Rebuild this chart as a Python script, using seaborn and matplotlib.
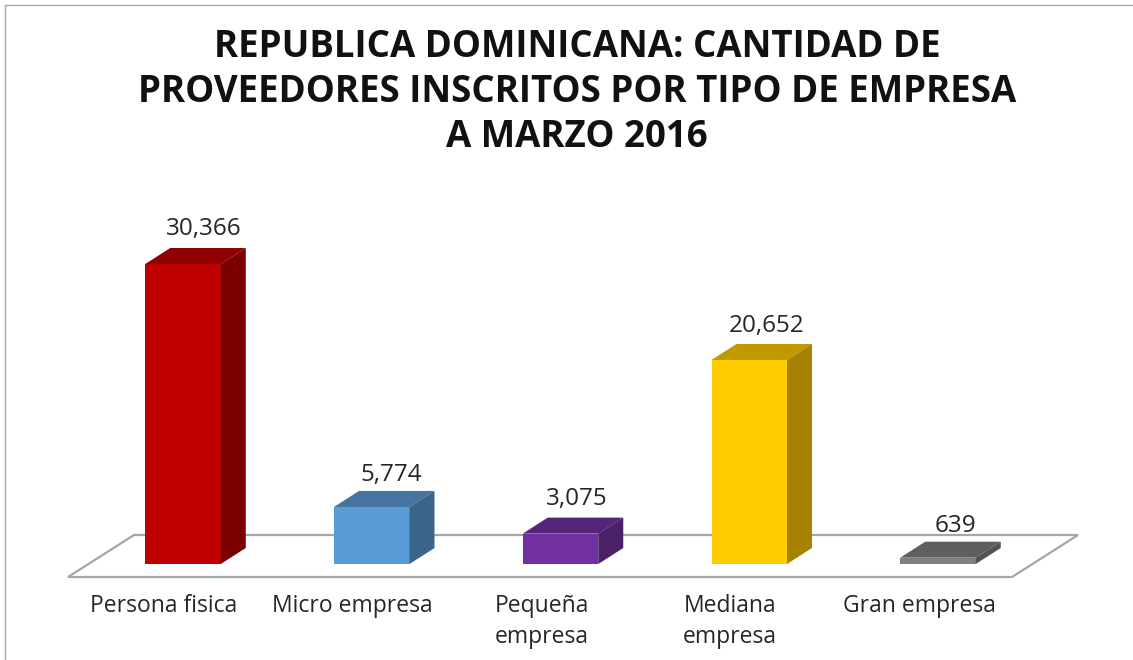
import matplotlib
matplotlib.use("Agg")
import matplotlib.pyplot as plt
import pandas as pd
import seaborn as sns
from matplotlib.lines import Line2D
from matplotlib.patches import Polygon
from matplotlib.transforms import ScaledTranslation

categories = ["Persona fisica", "Micro empresa", "Pequeña\nempresa", "Mediana\nempresa", "Gran empresa"]
values = [30366, 5774, 3075, 20652, 639]
front_colors = ["#C00000", "#5B9BD5", "#7030A0", "#FFCC00", "#7F7F7F"]
top_colors = ["#900000", "#44749F", "#542478", "#BF9900", "#5F5F5F"]
side_colors = ["#7B0000", "#3A6588", "#4A2069", "#A68200", "#535353"]
label_shift = [21, 20, 16, 17, 17]
label_rise = [35, 32, 35, 34, 32]

W, H = 1133, 660
BASE_Y = 564
CAT_PX = 188.75
VAL_PER_PX = 101.22
DEPTH_X = 25
DEPTH_Y = 16

sns.set_theme(style="white")
plt.rcParams["font.family"] = ["Open Sans", "DejaVu Sans"]

fig = plt.figure(figsize=(W / 100, H / 100), dpi=100)
ax = fig.add_axes([0, 1 - BASE_Y / H, 1, BASE_Y / H])

df = pd.DataFrame({"tipo": categories, "proveedores": values})
sns.barplot(data=df, x="tipo", y="proveedores", hue="tipo", palette=front_colors,
            saturation=1, width=0.4, legend=False, ax=ax, zorder=3, linewidth=0)

ax.set_xlim(-183 / CAT_PX, (W - 183) / CAT_PX)
ax.set_ylim(0, BASE_Y * VAL_PER_PX)
ax.set_xlabel("")
ax.set_ylabel("")
ax.set_yticks([])
ax.tick_params(axis="x", length=0, pad=21.5, labelsize=16.5, labelcolor="#262626")
# the category labels sit left of the bars, under the floor
shift = ScaledTranslation(-19 / 100, 0, fig.dpi_scale_trans)
for lab in ax.get_xticklabels():
    lab.set_linespacing(1.42)
    lab.set_transform(lab.get_transform() + shift)
sns.despine(ax=ax, left=True, bottom=True)
ax.patch.set_alpha(0)


def px_x(x):
    return (x - 183) / CAT_PX


def px_y(y):
    return (BASE_Y - y) * VAL_PER_PX


bars = list(ax.patches)

# floor of the 3D chart
floor = [(68, 577), (134, 535), (1078, 535), (1012, 577)]
ax.add_patch(Polygon([(px_x(x), px_y(y)) for x, y in floor], closed=True, fill=False,
                     edgecolor="#A6A6A6", lw=1.6, clip_on=False, zorder=1))

dx = DEPTH_X / CAT_PX
dy = DEPTH_Y * VAL_PER_PX
for i, bar in enumerate(bars):
    x0, x1 = bar.get_x(), bar.get_x() + bar.get_width()
    h = bar.get_height()
    ax.add_patch(Polygon([(x0, h), (x1, h), (x1 + dx, h + dy), (x0 + dx, h + dy)],
                         facecolor=top_colors[i], edgecolor="none", zorder=3))
    ax.add_patch(Polygon([(x1, 0), (x1 + dx, dy), (x1 + dx, h + dy), (x1, h)],
                         facecolor=side_colors[i], edgecolor="none", zorder=3))
    ax.annotate(f"{values[i]:,}", ((x0 + x1) / 2, h),
                xytext=(label_shift[i] * 0.72, label_rise[i] * 0.72), textcoords="offset points",
                ha="center", va="center", fontsize=17.5, color="#262626", zorder=4)

fig.suptitle("REPUBLICA DOMINICANA: CANTIDAD DE\nPROVEEDORES INSCRITOS POR TIPO DE EMPRESA\nA MARZO 2016",
             x=577 / W, y=1 - 92 / H, va="center", ha="center", fontsize=26.4,
             fontweight="bold", color="#111111", linespacing=1.24)

# chart frame left by the screenshot
fig.add_artist(Line2D([4.5 / W, 4.5 / W], [0, 1 - 5 / H], color="#A6A6A6", lw=1))
fig.add_artist(Line2D([4.5 / W, 1], [1 - 5 / H, 1 - 5 / H], color="#A6A6A6", lw=1))

fig.savefig("out.png", dpi=100)
